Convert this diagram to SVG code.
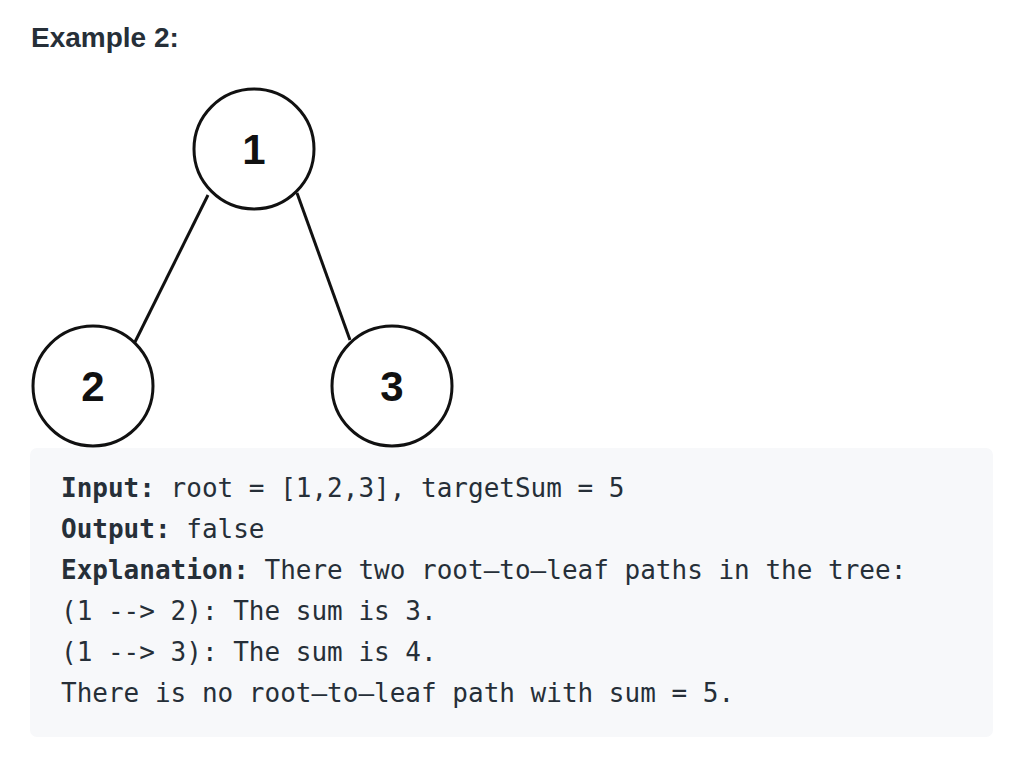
<svg xmlns="http://www.w3.org/2000/svg" width="1034" height="768" viewBox="0 0 1034 768">
<style>
.node{fill:#fff;stroke:#111;stroke-width:3}
.edge{stroke:#111;stroke-width:3;fill:none}
.lbl{font-family:"Liberation Sans",Arial,sans-serif;font-weight:bold;font-size:42px;fill:#111;text-anchor:middle}
.h{font-family:"Liberation Sans",Arial,sans-serif;font-weight:bold;font-size:28px;fill:#262f38}
.code{font-family:"DejaVu Sans Mono",monospace;font-size:26px;fill:#262f38}
.b{font-weight:bold}
</style>
<rect width="1034" height="768" fill="#fff"/>
<text class="h" x="31" y="47">Example 2:</text>
<g id="connectors">
<line class="edge" x1="208" y1="195" x2="135" y2="342"/>
<line class="edge" x1="297" y1="193" x2="350" y2="340"/>
</g>
<g id="node1"><circle class="node" cx="254" cy="149" r="60"/><text class="lbl" x="254" y="164">1</text></g>
<g id="node2"><circle class="node" cx="93" cy="386" r="60"/><text class="lbl" x="93" y="401">2</text></g>
<g id="node3"><circle class="node" cx="392" cy="386" r="60"/><text class="lbl" x="392" y="401">3</text></g>
<rect x="30" y="448" width="963" height="289" rx="7" fill="#f7f8fa"/>
<g id="explanation">
<text class="code" x="61" y="497"><tspan class="b">Input:</tspan> root = [1,2,3], targetSum = 5</text>
<text class="code" x="61" y="538"><tspan class="b">Output:</tspan> false</text>
<text class="code" x="61" y="579"><tspan class="b">Explanation:</tspan> There two root–to–leaf paths in the tree:</text>
<text class="code" x="61" y="620">(1 --&gt; 2): The sum is 3.</text>
<text class="code" x="61" y="661">(1 --&gt; 3): The sum is 4.</text>
<text class="code" x="61" y="702">There is no root–to–leaf path with sum = 5.</text>
</g>
</svg>
